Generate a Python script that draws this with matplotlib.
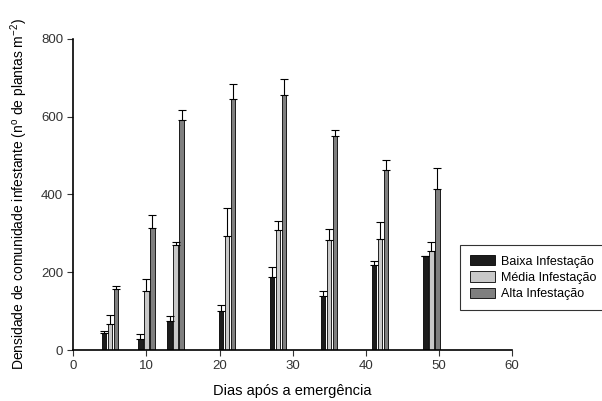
import numpy as np
import matplotlib
matplotlib.use("Agg")
import matplotlib.pyplot as plt

plt.rcParams['font.family'] = ['Liberation Sans', 'DejaVu Sans']
plt.rcParams['mathtext.default'] = 'regular'

dias = [5, 10, 14, 21, 28, 35, 42, 49]
baixa = [45, 29, 74, 100, 188, 139, 218, 241]
baixa_err = [5, 12, 13, 15, 25, 13, 12, 1]
media = [67, 152, 270, 294, 308, 282, 285, 255]
media_err = [23, 31, 9, 72, 24, 30, 44, 22]
alta = [157, 314, 591, 646, 656, 551, 463, 413]
alta_err = [8, 34, 27, 38, 40, 16, 25, 54]

series = [("Baixa Infestação", baixa, baixa_err, "#1c1c1c"),
          ("Média Infestação", media, media_err, "#c8c8c8"),
          ("Alta Infestação", alta, alta_err, "#7f7f7f")]

fig = plt.figure(figsize=(6.02, 4.01), dpi=100)
ax = fig.add_axes([0.122, 0.127, 0.728, 0.776])

x = np.array(dias, dtype=float)
off = 0.82
w = 0.62
for i, (lab, vals, err, col) in enumerate(series):
    pos = x + (i - 1) * off
    ax.bar(pos, vals, width=w, color=col, edgecolor="black", linewidth=0.6, label=lab)
    ax.errorbar(pos, vals, yerr=[np.zeros(len(err)), err], fmt="none",
                ecolor="black", elinewidth=0.8, capsize=3, capthick=0.8)

ax.set_xlim(0, 60)
ax.set_ylim(0, 800)
ax.set_xticks(range(0, 61, 10))
ax.set_yticks(range(0, 801, 200))
for s in ["top", "right"]:
    ax.spines[s].set_visible(False)
ax.spines["left"].set_linewidth(1.2)
ax.spines["bottom"].set_linewidth(1.2)
ax.tick_params(direction="out", length=4, width=0.8, labelsize=9.5, colors="#333333")
ax.set_xlabel("Dias após a emergência", fontsize=10.5, labelpad=8)
ax.set_ylabel("Densidade de comunidade infestante (n$^{o}$ de plantas m$^{-2}$)", fontsize=10, labelpad=8)

leg = ax.legend(loc="upper left", bbox_to_anchor=(460 / 602, 1 - 245 / 401), bbox_transform=fig.transFigure,
                frameon=True, fancybox=False, edgecolor="black", fontsize=9, handlelength=2.0,
                handleheight=0.9, handletextpad=0.5, borderpad=0.8, borderaxespad=0,
                labelspacing=0.3)
leg.get_frame().set_linewidth(0.8)

fig.savefig("out.png", dpi=100)
